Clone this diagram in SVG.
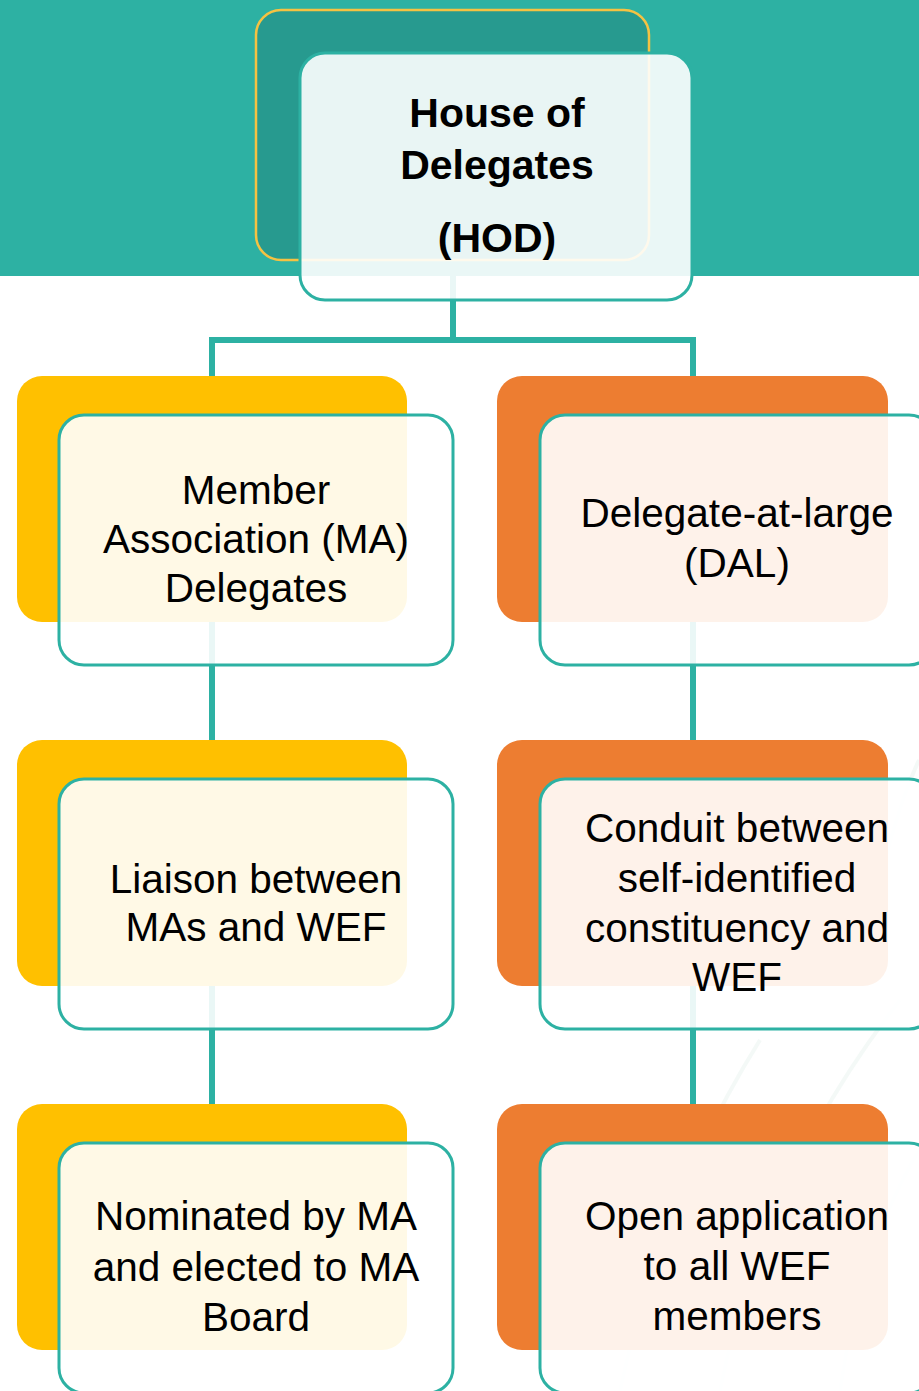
<svg xmlns="http://www.w3.org/2000/svg" width="919" height="1391" viewBox="0 0 919 1391">
<style>
.back-y{fill:#FFC000}
.back-o{fill:#ED7D31}
.front{fill:#FFFFFF;fill-opacity:0.9;stroke:#2DB1A3;stroke-width:3}
.conn{stroke:#2DB1A3;stroke-width:6;fill:none}
.t{font-family:"Liberation Sans",Arial,sans-serif;font-size:40.5px;fill:#000;text-anchor:middle}
.tb{font-family:"Liberation Sans",Arial,sans-serif;font-size:41px;font-weight:bold;fill:#000;text-anchor:middle}
.deco{stroke:#e6f2ee;stroke-width:4;fill:none;opacity:0.45}
</style>
<rect x="0" y="0" width="919" height="1391" fill="#FFFFFF"/>
<rect x="0" y="0" width="919" height="276" fill="#2DB1A3"/>
<g id="decor">
<path class="deco" d="M620 1391 Q660 1200 760 1040"/>
<path class="deco" d="M720 1391 Q760 1180 900 1000"/>
<path class="deco" d="M840 1391 Q860 1250 919 1150"/>
<path class="deco" d="M880 880 Q900 800 919 760"/>
</g>
<g id="connectors">
<path class="conn" d="M453 260 V340 M212 376 V340 H693 V376"/>
<path class="conn" d="M212 622 V740 M212 986 V1104"/>
<path class="conn" d="M693 622 V740 M693 986 V1104"/>
</g>
<g id="hod">
<rect x="256" y="10" width="393" height="250" rx="25" fill="#279A8F" stroke="#F5C242" stroke-width="2.5"/>
<rect class="front" x="300" y="53" width="392" height="247" rx="25"/>
<text class="tb" x="497" y="127">House of</text>
<text class="tb" x="497" y="179">Delegates</text>
<text class="tb" x="497" y="252">(HOD)</text>
</g>
<g id="ma">
<rect class="back-y" x="17" y="376" width="390" height="246" rx="25"/>
<rect class="front" x="59" y="415" width="394" height="250" rx="25"/>
<text class="t" x="256" y="504">Member</text>
<text class="t" x="256" y="553">Association (MA)</text>
<text class="t" x="256" y="602">Delegates</text>
</g>
<g id="dal">
<rect class="back-o" x="497" y="376" width="391" height="246" rx="25"/>
<rect class="front" x="540" y="415" width="394" height="250" rx="25"/>
<text class="t" x="737" y="527">Delegate-at-large</text>
<text class="t" x="737" y="577">(DAL)</text>
</g>
<g id="liaison">
<rect class="back-y" x="17" y="740" width="390" height="246" rx="25"/>
<rect class="front" x="59" y="779" width="394" height="250" rx="25"/>
<text class="t" x="256" y="893">Liaison between</text>
<text class="t" x="256" y="941">MAs and WEF</text>
</g>
<g id="conduit">
<rect class="back-o" x="497" y="740" width="391" height="246" rx="25"/>
<rect class="front" x="540" y="779" width="394" height="250" rx="25"/>
<text class="t" x="737" y="842">Conduit between</text>
<text class="t" x="737" y="892">self-identified</text>
<text class="t" x="737" y="942">constituency and</text>
<text class="t" x="737" y="991">WEF</text>
</g>
<g id="nominated">
<rect class="back-y" x="17" y="1104" width="390" height="246" rx="25"/>
<rect class="front" x="59" y="1143" width="394" height="250" rx="25"/>
<text class="t" x="256" y="1230">Nominated by MA</text>
<text class="t" x="256" y="1281">and elected to MA</text>
<text class="t" x="256" y="1331">Board</text>
</g>
<g id="open">
<rect class="back-o" x="497" y="1104" width="391" height="246" rx="25"/>
<rect class="front" x="540" y="1143" width="394" height="250" rx="25"/>
<text class="t" x="737" y="1230">Open application</text>
<text class="t" x="737" y="1280">to all WEF</text>
<text class="t" x="737" y="1330">members</text>
</g>
</svg>
